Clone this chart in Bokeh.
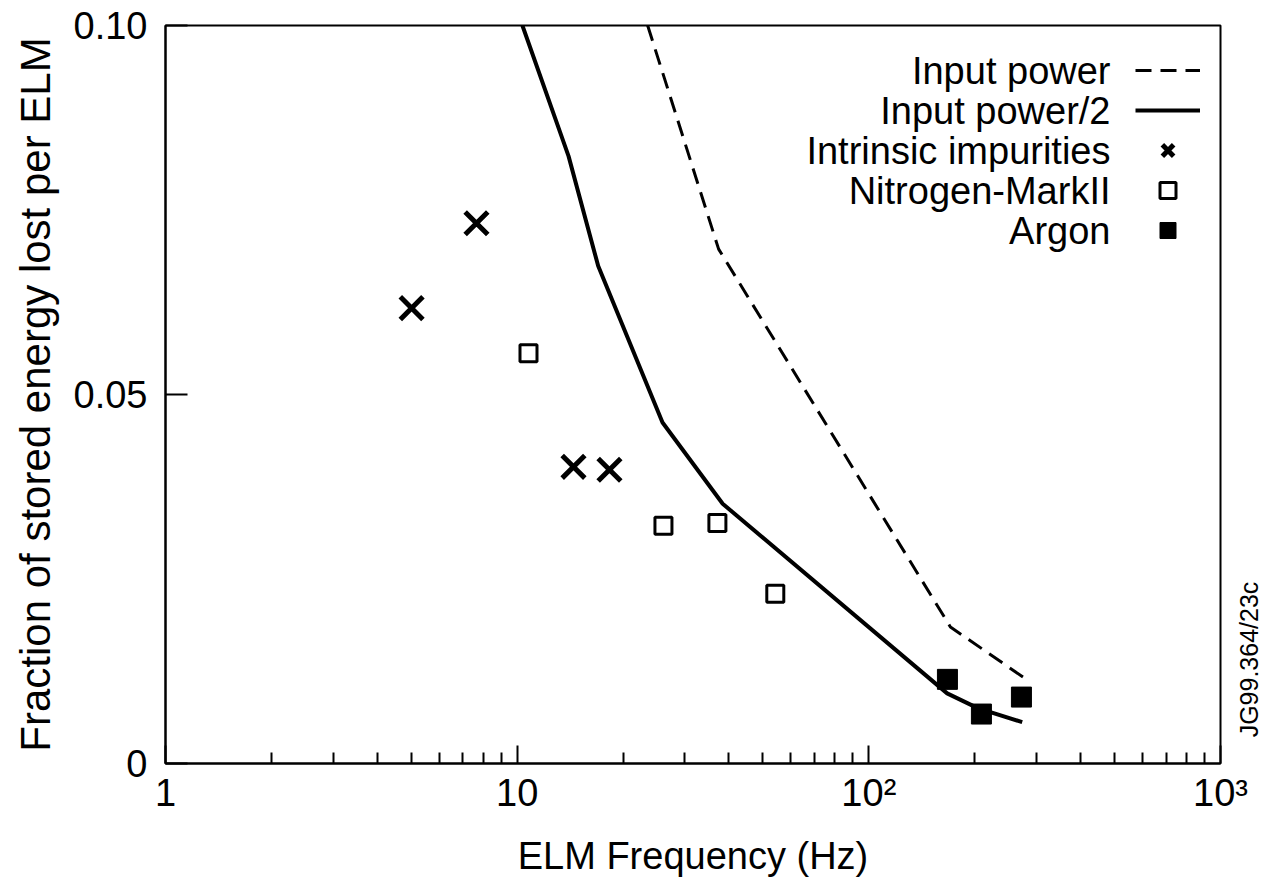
import math
from bokeh.plotting import figure
from bokeh.models import FixedTicker, Label, Legend, LegendItem
from bokeh.embed import file_html
from bokeh.resources import INLINE

# ---- data ----
# Input power (dashed line)
power_freq = [23.5, 37.4, 170.6, 282.5]
power_frac = [0.100, 0.0697, 0.0185, 0.0113]
# Input power/2 (solid line)
half_freq = [10.35, 14.0, 17.0, 25.9, 38.4, 167.0, 204.0, 273.0]
half_frac = [0.100, 0.0823, 0.0674, 0.0462, 0.0352, 0.0095, 0.0075, 0.0056]
# Intrinsic impurities (crosses)
intr_freq = [5.01, 7.66, 14.46, 18.3]
intr_frac = [0.0617, 0.0732, 0.0402, 0.0398]
# Nitrogen-MarkII (open squares)
n2_freq = [10.77, 26.06, 37.1, 54.2]
n2_frac = [0.0556, 0.0322, 0.0326, 0.0230]
# Argon (filled squares)
ar_freq = [167.3, 209.0, 271.6]
ar_frac = [0.0114, 0.0067, 0.0090]

legend_labels = ["Input power", "Input power/2", "Intrinsic impurities",
                 "Nitrogen-MarkII", "Argon"]
x_ticks = [1, 10, 100, 1000]
x_tick_labels = ["1", "10", "10²", "10³"]
x_minor = [m * d for d in (1, 10, 100) for m in range(2, 10)]
y_ticks = [0, 0.05, 0.1]
y_tick_labels = ["0", "0.05", "0.10"]
x_title = "ELM Frequency (Hz)"
y_title = "Fraction of stored energy lost per ELM"
figure_id = "JG99.364/23c"

FONT = "Liberation Sans"

p = figure(x_axis_type="log", x_range=(1, 1000), y_range=(0, 0.1),
           frame_width=1055, frame_height=738,
           min_border_left=165, min_border_right=45,
           min_border_top=25, min_border_bottom=120,
           output_backend="svg", toolbar_location=None,
           background_fill_color="white", border_fill_color="white")
p.grid.visible = False
p.outline_line_color = "black"
p.outline_line_width = 2

xa = p.xaxis[0]
ya = p.yaxis[0]
xa.ticker = FixedTicker(ticks=x_ticks, minor_ticks=x_minor)
xa.major_label_overrides = {t: s for t, s in zip(x_ticks, x_tick_labels)}
ya.ticker = FixedTicker(ticks=y_ticks)
ya.major_label_overrides = {t: s for t, s in zip(y_ticks, y_tick_labels)}

for ax in (xa, ya):
    ax.axis_line_width = 2
    ax.axis_line_color = "black"
    ax.major_tick_line_width = 2
    ax.minor_tick_line_width = 2
    ax.major_tick_line_color = "black"
    ax.minor_tick_line_color = "black"
    ax.major_tick_out = 0
    ax.minor_tick_out = 0
    ax.major_label_text_font = FONT
    ax.major_label_text_color = "black"
    ax.axis_label_text_font = FONT
    ax.axis_label_text_font_style = "normal"
    ax.axis_label_text_color = "black"

xa.major_tick_in = 18
xa.minor_tick_in = 11
xa.major_label_text_font_size = "38px"
xa.major_label_standoff = 8
xa.axis_label = x_title
xa.axis_label_text_font_size = "38px"
xa.axis_label_standoff = 18

ya.major_tick_in = 22
ya.minor_tick_in = 0
ya.major_label_text_font_size = "38px"
ya.major_label_standoff = 18
ya.axis_label = y_title
ya.axis_label_text_font_size = "42px"
ya.axis_label_standoff = 12

r_dash = p.line(power_freq, power_frac, line_color="black", line_width=3,
                line_dash="16 9")
r_solid = p.line(half_freq, half_frac, line_color="black", line_width=4)
r_x = p.scatter(intr_freq, intr_frac, marker="x", size=32, line_width=5,
                line_color="black")
r_n = p.scatter(n2_freq, n2_frac, marker="square", size=17, line_width=3,
                line_color="black", fill_color=None)
r_ar = p.scatter(ar_freq, ar_frac, marker="square", size=20,
                 line_color="black", fill_color="black")

items = [LegendItem(label="", renderers=[r])
         for r in (r_dash, r_solid, r_x, r_n, r_ar)]
leg = Legend(items=items, location=(970, 513), orientation="vertical",
             glyph_width=65, glyph_height=40, label_width=0, label_height=0,
             label_standoff=0, label_text_font_size="1px", spacing=0,
             padding=0, margin=0, border_line_color=None,
             background_fill_alpha=0)
p.add_layout(leg)

for i, lab in enumerate(legend_labels):
    p.add_layout(Label(x=945, y=693 - 40 * i, x_units="screen",
                       y_units="screen", text=lab, text_align="right",
                       text_baseline="middle", text_font=FONT,
                       text_font_size="38px", text_color="black"))

p.add_layout(Label(x=28, y=104, x_units="screen", y_units="screen",
                   text=figure_id, angle=math.pi / 2, text_align="center",
                   text_baseline="middle", text_font=FONT,
                   text_font_size="25px", text_color="black"), "right")

open("out.html", "w").write(file_html(p, INLINE))
